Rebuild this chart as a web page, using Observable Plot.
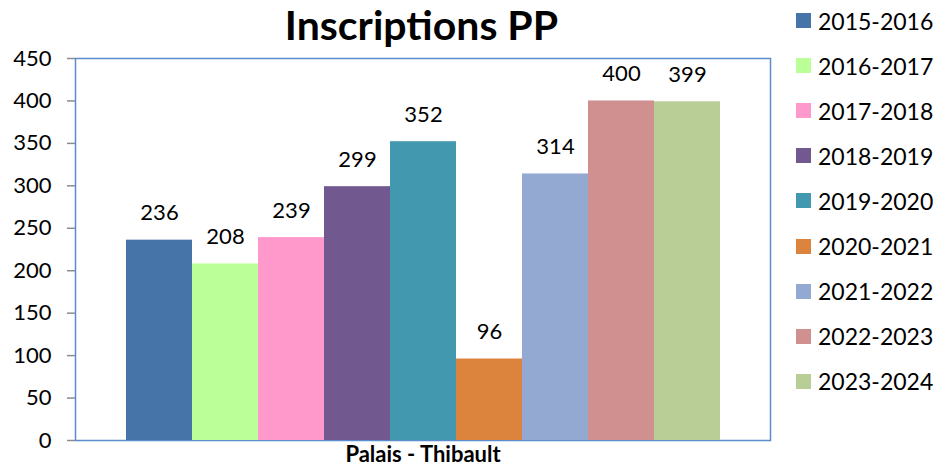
<!DOCTYPE html>
<html><head><meta charset="utf-8">
<script src="https://cdn.jsdelivr.net/npm/d3@7"></script>
<script src="https://cdn.jsdelivr.net/npm/@observablehq/plot@0.6"></script>
<style>
body{margin:0;background:#fff;font-family:Lato,"Open Sans",sans-serif;}
#wrap{position:relative;width:936px;height:471px;}
#title{position:absolute;left:0;width:843px;top:0;line-height:normal;text-align:center;font-weight:bold;font-size:41px;color:#000;z-index:2;}
#legend{position:absolute;left:796px;top:-2px;z-index:2;}
.row{display:flex;align-items:center;height:45.1px;font-size:23px;color:#000;}
.sw{width:15px;height:15px;margin-right:7px;}
</style></head>
<body><div id="wrap"><div id="title"></div><div id="legend"></div></div>
<script>
const title = "Inscriptions PP";
const category = "Palais - Thibault";
const years = ["2015-2016","2016-2017","2017-2018","2018-2019","2019-2020","2020-2021","2021-2022","2022-2023","2023-2024"];
const values = [236,208,239,299,352,96,314,400,399];
const colors = ["#4673a8","#bbff99","#ff99cc","#71588f","#4298af","#dc843e","#94a9d2","#d09090","#b9cd96"];
const yTicks = [0,50,100,150,200,250,300,350,400,450];

const data = years.map((y,i)=>({year:y, value:values[i]}));

const chart = Plot.plot({
  width:936, height:471,
  marginLeft:75, marginRight:166, marginTop:58, marginBottom:31,
  style:{fontFamily:"Lato, 'Open Sans', sans-serif", fontSize:"22px", color:"#000", background:"transparent"},
  x:{type:"band", domain:years, paddingInner:0, paddingOuter:0.75, axis:null},
  y:{domain:[0,450], ticks:yTicks, label:null},
  color:{domain:years, range:colors},
  marks:[
    Plot.frame({stroke:"#5b8ccc", strokeWidth:1.5}),
    Plot.barY(data,{x:"year", y:"value", fill:"year", inset:0}),
    Plot.ruleX([0],{frameAnchor:"left", stroke:"#8c8c8c", strokeWidth:2}),
    Plot.axisY({ticks:yTicks, tickSize:8, tickPadding:16, stroke:"#8c8c8c", strokeWidth:1.5, fontSize:22, label:null}),
    Plot.text(data,{x:"year", y:"value", text:d=>String(d.value), dy:-27, fontSize:22, fill:"#000"}),
    Plot.text([category],{frameAnchor:"bottom", dy:21, fontWeight:"bold", fontSize:22, fill:"#000"})
  ]
});
chart.style.position="absolute"; chart.style.left="0"; chart.style.top="0";
document.getElementById("wrap").appendChild(chart);
document.getElementById("title").textContent = title;
const leg = document.getElementById("legend");
years.forEach((y,i)=>{
  const r=document.createElement("div"); r.className="row";
  const s=document.createElement("div"); s.className="sw"; s.style.background=colors[i];
  const t=document.createElement("span"); t.textContent=y;
  r.appendChild(s); r.appendChild(t); leg.appendChild(r);
});
</script></body></html>
